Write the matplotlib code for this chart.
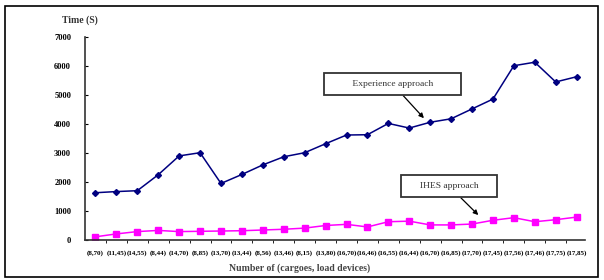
import numpy as np
import matplotlib.pyplot as plt
from matplotlib.patches import Rectangle

# x categories (cargoes, load devices) - hard to read in the source, best guess
labels = ['(8,70)', '(11,45)', '(14,55)', '(8,44)', '(14,70)', '(8,85)',
          '(13,70)', '(13,44)', '(8,56)', '(13,46)', '(8,15)', '(13,80)',
          '(16,70)', '(16,46)', '(16,55)', '(16,44)', '(16,70)', '(16,85)',
          '(17,70)', '(17,45)', '(17,56)', '(17,46)', '(17,75)', '(17,85)']
# experience approach
experience = [1630, 1670, 1700, 2250, 2900, 3010, 1950, 2260, 2590, 2870, 3010, 3320,
              3620, 3630, 4020, 3860, 4060, 4180, 4520, 4860, 6010, 6130, 5450, 5630]
# IHES approach
ihes = [110, 210, 290, 330, 290, 300, 310, 320, 345, 370, 410, 500,
        540, 450, 630, 650, 520, 520, 550, 680, 770, 630, 700, 790]

x = np.arange(len(labels))

fig = plt.figure(figsize=(6.04, 2.8), dpi=100)
# outer frame around the whole chart
fig.patches.append(Rectangle((5/604, 3/280), 593/604, 271/280, transform=fig.transFigure,
                             fill=False, edgecolor='black', linewidth=1.2))
ax = fig.add_axes([85/604, 40/280, 500/604, 203/280])

ax.plot(x, experience, color='#000080', marker='D', markersize=3, linewidth=1.1)
ax.plot(x, ihes, color='#ff00ff', marker='s', markersize=4.5, linewidth=1.1)

ax.set_xlim(-0.5, 23.4)
ax.set_ylim(0, 7000)
ax.set_yticks(np.arange(0, 7001, 1000))
ax.set_xticks(x)
ax.set_xticklabels(labels)
ax.set_xticks(x[:-1] + 0.5, minor=True)

for s in ['top', 'right']:
    ax.spines[s].set_visible(False)
for s in ['left', 'bottom']:
    ax.spines[s].set_linewidth(1.2)
    ax.spines[s].set_color('#333333')

ax.tick_params(axis='y', direction='in', length=2, labelsize=6, pad=10)
ax.tick_params(axis='x', which='major', length=0, labelsize=5, pad=7)
ax.tick_params(axis='x', which='minor', direction='out', length=2)
for t in ax.get_xticklabels() + ax.get_yticklabels():
    t.set_fontfamily('Liberation Serif')
    t.set_fontweight('bold')

fig.text(62/604, 1 - 20/280, 'Time (S)', fontsize=7, fontweight='bold',
         family='Liberation Serif', color='#333333', ha='left', va='center')
fig.text(300/604, 1 - 268/280, 'Number of (cargoes, load devices)', fontsize=7,
         fontweight='bold', family='Liberation Serif', color='#444444',
         ha='center', va='center')

box = dict(boxstyle='square,pad=0.75', facecolor='white', edgecolor='#333333', linewidth=1.3)
arrow = dict(arrowstyle='-|>', color='black', lw=0.9, shrinkA=0, shrinkB=0, mutation_scale=7)
ax.annotate('         Experience approach         ', xy=(15.7, 4200), xytext=(14.2, 5380),
            fontsize=6.8, family='Liberation Serif', color='#333333',
            ha='center', va='center', bbox=box, arrowprops=arrow)
ax.annotate('     IHES approach     ', xy=(18.3, 860), xytext=(16.9, 1860),
            fontsize=6.8, family='Liberation Serif', color='#333333',
            ha='center', va='center', bbox=box, arrowprops=arrow)

plt.savefig('out.png', dpi=100)
